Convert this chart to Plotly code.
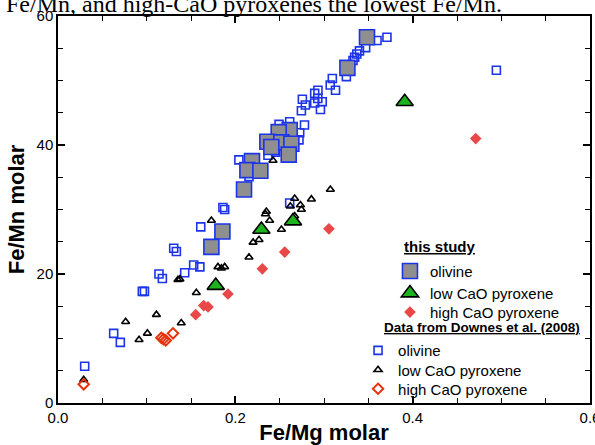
import plotly.graph_objects as go

# ---------------- data ----------------
# this study
study_ol_x = [0.3485, 0.3264, 0.2613, 0.2489, 0.2361, 0.2519, 0.2632, 0.2406, 0.2602, 0.2188, 0.2136, 0.2282, 0.2098, 0.1854, 0.1730]
study_ol_y = [56.7, 51.95, 42.3, 42.0, 40.5, 40.4, 40.2, 39.7, 38.5, 37.5, 36.1, 36.0, 33.1, 26.6, 24.2]

study_lpx_x = [0.391, 0.265, 0.2294, 0.1779]
study_lpx_y = [46.7, 28.2, 26.9, 18.2]

study_hpx_x = [0.4711, 0.3056, 0.2557, 0.2305, 0.1917, 0.1692, 0.1643, 0.1553]
study_hpx_y = [41.0, 27.0, 23.4, 20.8, 16.9, 14.9, 15.1, 13.7]

# Downes et al. (2008)
downes_ol_x = [0.371, 0.3598, 0.347, 0.340, 0.337, 0.3346, 0.3327, 0.3252, 0.3094, 0.307, 0.313,
               0.2932, 0.2895, 0.293, 0.2895, 0.298, 0.296, 0.2756, 0.279, 0.2745, 0.278, 0.2613,
               0.2493, 0.2726, 0.2718, 0.266, 0.2455, 0.2368, 0.204, 0.2154, 0.188, 0.186, 0.161,
               0.2613, 0.16, 0.153, 0.1305, 0.1335, 0.1429, 0.1139, 0.1177, 0.0951, 0.0975,
               0.0628, 0.0703, 0.0301, 0.4944]
downes_ol_y = [56.7, 56.2, 55.1, 54.6, 54.1, 53.6, 53.1, 50.6, 50.3, 49.3, 48.5,
               48.5, 48.0, 47.2, 46.5, 46.7, 45.5, 47.1, 46.2, 45.3, 43.1, 43.6,
               43.2, 41.9, 40.8, 40.5, 38.9, 38.4, 37.7, 35.1, 30.0, 30.3, 27.3,
               31.0, 21.1, 21.4, 24.0, 23.5, 20.2, 20.0, 19.3, 17.3, 17.3,
               10.8, 9.4, 5.7, 51.6]

downes_lpx_x = [0.3072, 0.2858, 0.2669, 0.262, 0.2734, 0.2745, 0.2669, 0.235, 0.2339, 0.2387,
                0.252, 0.2267, 0.22, 0.2154, 0.1804, 0.1843, 0.188, 0.173, 0.2425, 0.1353,
                0.1375, 0.156, 0.0763, 0.111, 0.139, 0.1008, 0.0914, 0.029]
downes_lpx_y = [33.1, 31.6, 31.7, 30.5, 30.7, 30.0, 29.0, 29.7, 29.3, 28.3,
                26.9, 25.3, 24.9, 22.6, 21.1, 20.9, 21.1, 28.3, 37.6, 19.1,
                19.2, 17.1, 12.6, 13.7, 12.4, 10.8, 9.8, 3.6]

downes_hpx_x = [0.1166, 0.1215, 0.119, 0.1297, 0.029]
downes_hpx_y = [10.1, 9.7, 9.9, 10.8, 2.9]

# ---------------- styling ----------------
BLUE = "#1c34e8"
GRAY = "#8f8f8f"
GREEN = "#1fb21f"
RED = "#e84848"
ORANGE = "#e8320c"
SANS = "Liberation Sans, Arial, sans-serif"

fig = go.Figure()

fig.add_trace(go.Scatter(x=downes_ol_x, y=downes_ol_y, mode="markers", name="olivine",
                         legend="legend4",
                         marker=dict(symbol="square-open", size=8, color=BLUE, line=dict(width=1.6))))
fig.add_trace(go.Scatter(x=downes_lpx_x, y=downes_lpx_y, mode="markers", name="low CaO pyroxene",
                         legend="legend5",
                         marker=dict(symbol="triangle-up-open", size=7, color="black", line=dict(width=1.6))))
fig.add_trace(go.Scatter(x=downes_hpx_x, y=downes_hpx_y, mode="markers", name="high CaO pyroxene",
                         legend="legend6",
                         marker=dict(symbol="diamond-open", size=8, color=ORANGE, line=dict(width=2))))

fig.add_trace(go.Scatter(x=study_ol_x, y=study_ol_y, mode="markers", name="olivine",
                         legend="legend",
                         marker=dict(symbol="square", size=15, color=GRAY, line=dict(width=1.6, color=BLUE))))
fig.add_trace(go.Scatter(x=study_lpx_x, y=study_lpx_y, mode="markers", name="low CaO pyroxene",
                         legend="legend2",
                         marker=dict(symbol="triangle-up", size=15, color=GREEN, line=dict(width=1.6, color="black"))))
fig.add_trace(go.Scatter(x=study_hpx_x, y=study_hpx_y, mode="markers", name="high CaO pyroxene",
                         legend="legend3",
                         marker=dict(symbol="diamond", size=9, color=RED, line=dict(width=0))))

axis_common = dict(showline=True, linecolor="black", linewidth=1.5, mirror="allticks",
                   ticks="inside", ticklen=7, tickwidth=1.5, tickcolor="black",
                   showgrid=False, zeroline=False, ticklabeloverflow="allow", automargin=False,
                   tickfont=dict(family=SANS, size=15, color="black"))

fig.update_xaxes(range=[0, 0.6], dtick=0.2, tick0=0, tickformat=".1f",
                 minor=dict(dtick=0.05, ticks="inside", ticklen=5, tickwidth=1, tickcolor="black"),
                 title=dict(text="<b>Fe/Mg molar</b>", font=dict(family=SANS, size=22, color="black"), standoff=4),
                 **axis_common)
fig.update_yaxes(range=[0, 60], dtick=20, tick0=0,
                 minor=dict(dtick=5, ticks="inside", ticklen=5, tickwidth=1, tickcolor="black"),
                 title=dict(text="<b>Fe/Mn molar</b>", font=dict(family=SANS, size=22, color="black"), standoff=6),
                 **axis_common)

legend_common = dict(bgcolor="rgba(0,0,0,0)", borderwidth=0, xanchor="left", yanchor="top",
                     font=dict(family=SANS, size=15, color="black"), tracegroupgap=0)

L1X = 0.624
L2X = 0.564

fig.update_layout(
    width=595, height=445, autosize=False,
    margin=dict(l=58, r=5, t=16, b=42, autoexpand=False),
    paper_bgcolor="white", plot_bgcolor="white",
    showlegend=True,
    legend=dict(x=L1X, y=0.383, **legend_common),
    legend2=dict(x=L1X, y=0.326, **legend_common),
    legend3=dict(x=L1X, y=0.277, **legend_common),
    legend4=dict(x=L2X, y=0.178, **legend_common),
    legend5=dict(x=L2X, y=0.128, **legend_common),
    legend6=dict(x=L2X, y=0.0788, **legend_common),
    annotations=[
        dict(text="Fe/Mn, and high-CaO pyroxenes the lowest Fe/Mn.", xref="paper", yref="paper",
             x=-0.1015, y=1.031, xanchor="left", yanchor="middle", showarrow=False,
             font=dict(family="Liberation Serif, Times New Roman, serif", size=24, color="black")),
        dict(text="<b><span style='text-decoration:underline'>this study</span></b>", xref="paper", yref="paper",
             x=0.646, y=0.405, xanchor="left", yanchor="middle", showarrow=False,
             font=dict(family=SANS, size=15, color="black")),
        dict(text="<b><span style='text-decoration:underline'>Data from Downes et al. (2008)</span></b>",
             xref="paper", yref="paper",
             x=0.609, y=0.194, xanchor="left", yanchor="middle", showarrow=False,
             font=dict(family=SANS, size=13.5, color="black")),
    ],
)

fig.write_html("out.html")
